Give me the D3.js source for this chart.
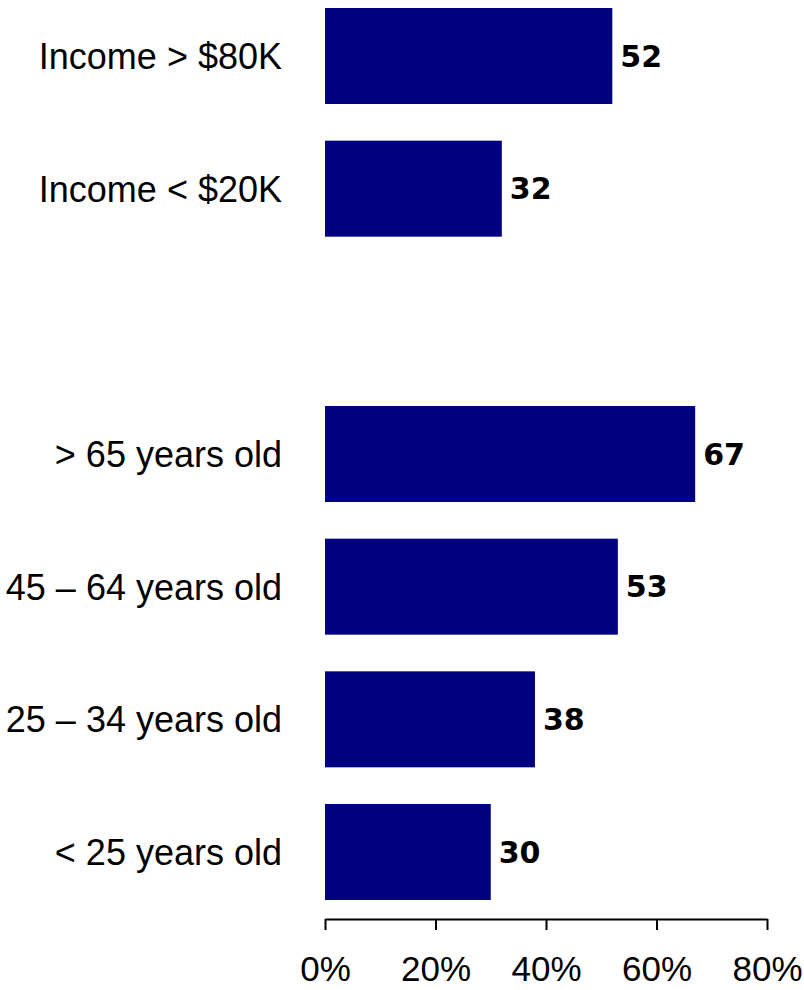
<!DOCTYPE html>
<html>
<head>
<meta charset="utf-8">
<script src="https://cdn.jsdelivr.net/npm/d3@7"></script>
<style>
  html, body { margin: 0; padding: 0; background: #fff; }
  svg { display: block; }
</style>
</head>
<body>
<svg id="chart" width="804" height="990"></svg>
<script>
// ---- data ----
const categories = ["Income > $80K", "Income < $20K", "", "> 65 years old", "45 – 64 years old", "25 – 34 years old", "< 25 years old"];
const values = [52, 32, null, 67, 53, 38, 30];
const tickValues = [0, 20, 40, 60, 80];
const tickLabels = ["0%", "20%", "40%", "60%", "80%"];

const rows = categories.map((c, i) => ({ key: "r" + i, label: c, value: values[i] }));

const svg = d3.select("#chart");
const x0 = 325, x1 = 767;
const x = d3.scaleLinear().domain([0, 80]).range([x0, x1]);
const y = d3.scaleBand().domain(rows.map(d => d.key)).range([8, 900]).paddingInner(0.2764).paddingOuter(0);

const barRows = rows.filter(d => d.value !== null);

svg.append("g").selectAll("rect").data(barRows).join("rect")
  .attr("x", x(0))
  .attr("y", d => y(d.key))
  .attr("width", d => x(d.value) - x(0))
  .attr("height", y.bandwidth())
  .attr("fill", "#000080");

// category labels
svg.append("g").selectAll("text").data(barRows).join("text")
  .attr("x", 282)
  .attr("y", d => y(d.key) + y.bandwidth() / 2)
  .attr("dy", "0.36em")
  .attr("text-anchor", "end")
  .attr("font-family", "'Liberation Sans', Arial, sans-serif")
  .attr("font-size", 36)
  .attr("fill", "#000")
  .text(d => d.label);

// value labels
svg.append("g").selectAll("text").data(barRows).join("text")
  .attr("x", d => x(d.value) + 8)
  .attr("y", d => y(d.key) + y.bandwidth() / 2)
  .attr("dy", "0.36em")
  .attr("text-anchor", "start")
  .attr("font-family", "'DejaVu Sans', sans-serif")
  .attr("font-weight", "bold")
  .attr("font-size", 30)
  .attr("fill", "#000")
  .text(d => d.value);

// axis
const axis = d3.axisBottom(x)
  .tickValues(tickValues)
  .tickFormat((d, i) => tickLabels[i])
  .tickSize(11)
  .tickSizeOuter(0)
  .tickPadding(26);

const gAxis = svg.append("g").attr("transform", "translate(0,919)").call(axis);
gAxis.select(".domain").attr("stroke", "#000").attr("stroke-width", 2);
gAxis.selectAll(".tick line").attr("stroke", "#000").attr("stroke-width", 2);
gAxis.selectAll(".tick text")
  .attr("font-family", "'Liberation Sans', Arial, sans-serif")
  .attr("font-size", 35)
  .attr("fill", "#000");
</script>
</body>
</html>
